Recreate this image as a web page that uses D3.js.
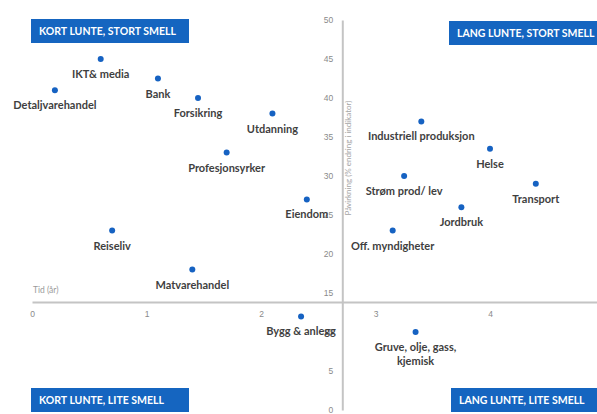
<!DOCTYPE html>
<html>
<head>
<meta charset="utf-8">
<script src="https://cdn.jsdelivr.net/npm/d3@7"></script>
<style>
  html, body { margin: 0; padding: 0; background: #fff; }
  svg { display: block; font-family: Lato, "Open Sans", sans-serif; }
  .tick text { fill: #8a8a8a; font-size: 8.5px; }
  .lbl { fill: #3f3f3f; font-size: 11px; font-weight: 700; }
  .quad { fill: #fff; font-size: 10.5px; font-weight: 700; }
</style>
</head>
<body>
<div id="chart"></div>
<script>
const width = 597;
const height = 414;

// sectors, time (years) and impact (% change in indicator)
const sectors = [
  "IKT& media", "Detaljvarehandel", "Bank", "Forsikring", "Utdanning",
  "Profesjonsyrker", "Reiseliv", "Matvarehandel", "Eiendom",
  "Industriell produksjon", "Helse", "Strøm prod/ lev", "Transport",
  "Jordbruk", "Off. myndigheter", "Bygg & anlegg", "Gruve, olje, gass,\nkjemisk"
];
const tid = [0.6, 0.2, 1.1, 1.45, 2.1, 1.7, 0.7, 1.4, 2.4, 3.4, 4.0, 3.25, 4.4, 3.75, 3.15, 2.35, 3.35];
const pavirkning = [45, 41, 42.5, 40, 38, 33, 23, 18, 27, 37, 33.5, 30, 29, 26, 23, 12, 10];

const xTicks = [0, 1, 2, 3, 4];
const yTicks = [0, 5, 10, 15, 20, 25, 30, 35, 40, 45, 50];

const quadrants = [
  { text: "KORT LUNTE, STORT SMELL", x: 31, y: 19, w: 158 },
  { text: "LANG LUNTE, STORT SMELL", x: 449, y: 21, w: 152 },
  { text: "KORT LUNTE, LITE SMELL", x: 31, y: 388, w: 158 },
  { text: "LANG LUNTE, LITE SMELL", x: 451, y: 388, w: 150 }
];

// where the axes cross each other
const xCross = 2.71;
const yCross = 13.85;

const svg = d3.select("#chart")
  .append("svg")
  .attr("width", width)
  .attr("height", height);

const x = d3.scaleLinear().domain([0, 5]).range([32, 604.5]);
const y = d3.scaleLinear().domain([0, 50]).range([410, 20]);

const xAxis = d3.axisBottom(x).tickValues(xTicks).tickSize(0).tickPadding(9).tickFormat(d3.format("d"));
const yAxis = d3.axisLeft(y).tickValues(yTicks).tickSize(0).tickPadding(9).tickFormat(d3.format("d"));

const gx = svg.append("g")
  .attr("transform", `translate(0, ${y(yCross)})`)
  .call(xAxis);

const gy = svg.append("g")
  .attr("transform", `translate(${x(xCross)}, 0)`)
  .call(yAxis);

[gx, gy].forEach(g => {
  g.select(".domain").attr("stroke", "#c4c4c4").attr("stroke-width", 2);
  g.selectAll(".tick text").attr("font-family", null).attr("font-size", null);
});

// axis titles
svg.append("text")
  .attr("x", 33)
  .attr("y", y(yCross) - 9)
  .attr("fill", "#9a9a9a")
  .attr("font-size", 8.5)
  .text("Tid (år)");

svg.append("text")
  .attr("transform", `translate(${x(xCross) + 9}, 158) rotate(-90)`)
  .attr("text-anchor", "middle")
  .attr("fill", "#a5a5a5")
  .attr("font-size", 8)
  .text("Påvirkning (% endring i indikator)");

// points
svg.selectAll(".dot")
  .data(sectors)
  .enter()
  .append("circle")
  .attr("class", "dot")
  .attr("cx", (_, i) => x(tid[i]))
  .attr("cy", (_, i) => y(pavirkning[i]))
  .attr("r", 3)
  .attr("fill", "#1662c2");

// labels below each point
const labels = svg.selectAll(".lbl")
  .data(sectors)
  .enter()
  .append("text")
  .attr("class", "lbl")
  .attr("text-anchor", "middle")
  .attr("x", (_, i) => x(tid[i]))
  .attr("y", (_, i) => y(pavirkning[i]) + 19);

labels.each(function (d, i) {
  const t = d3.select(this);
  d.split("\n").forEach((line, j) => {
    t.append("tspan")
      .attr("x", x(tid[i]))
      .attr("dy", j === 0 ? 0 : 14)
      .text(line);
  });
});

// quadrant boxes
const q = svg.selectAll(".qbox")
  .data(quadrants)
  .enter()
  .append("g")
  .attr("class", "qbox");

q.append("rect")
  .attr("x", d => d.x)
  .attr("y", d => d.y)
  .attr("width", d => d.w)
  .attr("height", 24)
  .attr("fill", "#1565c0");

q.append("text")
  .attr("class", "quad")
  .attr("x", d => d.x + 8)
  .attr("y", d => d.y + 15.5)
  .text(d => d.text);
</script>
</body>
</html>
